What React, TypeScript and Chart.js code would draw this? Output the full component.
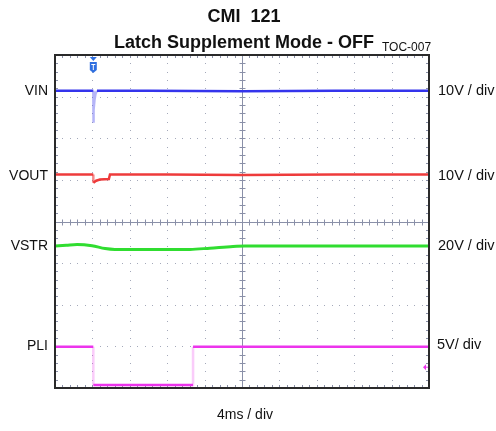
import React, { useEffect, useRef } from "react";
import { Chart, registerables } from "chart.js";

Chart.register(...registerables);

// Screen divisions: x 0..10 (4 ms/div), y 0..8
const X_DIVS = 10;
const Y_DIVS = 8;

const TITLE_1 = "CMI  121";
const TITLE_2 = "Latch Supplement Mode - OFF";
const TOC = "TOC-007";
const X_UNIT = "4ms / div";

const CH_NAMES = ["VIN", "VOUT", "VSTR", "PLI"];
const CH_SCALES = ["10V / div", "10V / div", "20V / div", "5V/ div"];
const CH_COLORS = ["#3434ec", "#ee3b3b", "#30dd30", "#ec34ec"];

// traces, x and y in divisions
const VIN_X = [0, 1.024, 1.025, 1.037, 1.056, 1.083, 1.123, 2.5, 5, 7.5, 10];
const VIN_Y = [7.14, 7.14, 6.37, 6.68, 6.92, 7.07, 7.14, 7.14, 7.13, 7.14, 7.14];

const VOUT_X = [0, 1.024, 1.025, 1.1, 1.2, 1.44, 1.47, 3, 5, 7.5, 10];
const VOUT_Y = [5.13, 5.13, 4.93, 4.98, 5.01, 5.02, 5.13, 5.13, 5.12, 5.13, 5.13];

const VSTR_X = [0, 0.3, 0.59, 0.99, 1.34, 1.6, 2.6, 3.61, 4.14, 4.76, 5.08, 7.5, 10];
const VSTR_Y = [3.41, 3.43, 3.45, 3.42, 3.35, 3.33, 3.33, 3.33, 3.36, 3.4, 3.41, 3.41, 3.41];

const PLI_X = [0, 1.024, 1.025, 3.69, 3.691, 10];
const PLI_Y = [0.99, 0.99, 0.07, 0.07, 0.99, 0.99];

// fast transitions drawn faint (as on the scope screen)
const VIN_FAST = [1.024, 1.1];
const VOUT_FAST = [1.024, 1.025];
const PLI_FAST_1 = [1.024, 1.025];
const PLI_FAST_2 = [3.69, 3.691];

const TRIGGER_X = 1.024;
const PLI_REF_Y = 0.5;

const CH_LABEL_Y = [7.14, 5.1, 3.4, 1.0];
const CH_SCALE_Y = [7.14, 5.1, 3.4, 1.04];

function pts(xs: number[], ys: number[]) {
  return xs.map((x, i) => ({ x, y: ys[i] }));
}

const FONT = "'Liberation Sans', Arial, sans-serif";

const scopePlugin = {
  id: "scope",
  beforeDatasetsDraw(chart: any) {
    const { ctx, scales } = chart;
    const { left, right, top, bottom } = chart.chartArea;
    const x = scales.x;
    const y = scales.y;
    ctx.save();
    // dotted grid
    ctx.fillStyle = "#a4a9ba";
    for (let i = 1; i < X_DIVS; i++) {
      if (i === X_DIVS / 2) continue;
      const px = Math.round(x.getPixelForValue(i));
      for (let j = 0; j <= Y_DIVS * 5; j++) {
        const py = Math.round(y.getPixelForValue(j / 5));
        ctx.fillRect(px, py, 1, 1);
      }
    }
    for (let j = 1; j < Y_DIVS; j++) {
      if (j === Y_DIVS / 2) continue;
      const py = Math.round(y.getPixelForValue(j));
      for (let i = 0; i <= X_DIVS * 5; i++) {
        const px = Math.round(x.getPixelForValue(i / 5));
        ctx.fillRect(px, py, 1, 1);
      }
    }
    // center lines
    ctx.strokeStyle = "#8a90a8";
    ctx.lineWidth = 1;
    const cx = Math.round(x.getPixelForValue(X_DIVS / 2)) + 0.5;
    const cy = Math.round(y.getPixelForValue(Y_DIVS / 2)) + 0.5;
    ctx.beginPath();
    ctx.moveTo(cx, top);
    ctx.lineTo(cx, bottom);
    ctx.moveTo(left, cy);
    ctx.lineTo(right, cy);
    for (let i = 0; i <= X_DIVS * 5; i++) {
      const px = Math.round(x.getPixelForValue(i / 5)) + 0.5;
      ctx.moveTo(px, cy - 3);
      ctx.lineTo(px, cy + 3);
      ctx.moveTo(px, top);
      ctx.lineTo(px, top + 3);
      ctx.moveTo(px, bottom);
      ctx.lineTo(px, bottom - 3);
    }
    for (let j = 0; j <= Y_DIVS * 5; j++) {
      const py = Math.round(y.getPixelForValue(j / 5)) + 0.5;
      ctx.moveTo(cx - 3, py);
      ctx.lineTo(cx + 3, py);
      ctx.moveTo(left, py);
      ctx.lineTo(left + 3, py);
      ctx.moveTo(right, py);
      ctx.lineTo(right - 3, py);
    }
    ctx.stroke();
    ctx.restore();
  },
  afterDatasetsDraw(chart: any) {
    const { ctx, scales } = chart;
    const { left, right, top, bottom } = chart.chartArea;
    const x = scales.x;
    const y = scales.y;
    ctx.save();
    // border
    ctx.strokeStyle = "#2a2a2a";
    ctx.lineWidth = 2;
    ctx.strokeRect(left, top, right - left, bottom - top);

    // trigger marker
    const tx = x.getPixelForValue(TRIGGER_X);
    ctx.fillStyle = "#2f6fe0";
    ctx.beginPath();
    ctx.moveTo(tx - 3.5, top + 2);
    ctx.lineTo(tx + 3.5, top + 2);
    ctx.lineTo(tx, top + 6);
    ctx.closePath();
    ctx.fill();
    ctx.beginPath();
    ctx.moveTo(tx - 3.5, top + 7);
    ctx.lineTo(tx + 3.5, top + 7);
    ctx.lineTo(tx + 3.5, top + 15);
    ctx.lineTo(tx, top + 18);
    ctx.lineTo(tx - 3.5, top + 15);
    ctx.closePath();
    ctx.fill();
    ctx.strokeStyle = "#ffffff";
    ctx.lineWidth = 1;
    ctx.beginPath();
    ctx.moveTo(tx - 2, top + 9.5);
    ctx.lineTo(tx + 2, top + 9.5);
    ctx.moveTo(tx, top + 9.5);
    ctx.lineTo(tx, top + 15);
    ctx.stroke();

    // PLI reference arrow
    const ay = y.getPixelForValue(PLI_REF_Y);
    ctx.fillStyle = CH_COLORS[3];
    ctx.beginPath();
    ctx.moveTo(right - 6, ay);
    ctx.lineTo(right - 3, ay - 3);
    ctx.lineTo(right - 3, ay + 3);
    ctx.closePath();
    ctx.fill();
    ctx.fillRect(right - 3, ay - 0.5, 2, 1);

    // texts
    ctx.fillStyle = "#111111";
    ctx.textBaseline = "alphabetic";
    ctx.textAlign = "center";
    const mid = 244;
    ctx.font = `bold 18px ${FONT}`;
    ctx.fillText(TITLE_1, mid, 22);
    ctx.fillText(TITLE_2, mid, 48);
    const w2 = ctx.measureText(TITLE_2).width;
    ctx.font = `12px ${FONT}`;
    ctx.textAlign = "left";
    ctx.fillText(TOC, mid + w2 / 2 + 8, 51);

    ctx.textBaseline = "middle";
    ctx.font = `14px ${FONT}`;
    CH_NAMES.forEach((n, i) => {
      ctx.textAlign = "right";
      ctx.fillText(n, 48, y.getPixelForValue(CH_LABEL_Y[i]));
    });
    ctx.font = `14.5px ${FONT}`;
    CH_SCALES.forEach((s, i) => {
      ctx.textAlign = "left";
      ctx.fillText(s, i === 3 ? 437 : 438, y.getPixelForValue(CH_SCALE_Y[i]));
    });
    ctx.font = `14px ${FONT}`;
    ctx.textAlign = "center";
    ctx.fillText(X_UNIT, x.getPixelForValue(X_DIVS / 2) + 3, 415);
    ctx.restore();
  },
};

export default function App() {
  const ref = useRef<HTMLCanvasElement | null>(null);
  useEffect(() => {
    document.body.style.margin = "0";
    const canvas = ref.current!;
    const inRanges = (x0: number, ranges: number[][]) =>
      ranges.some((r) => x0 >= r[0] - 1e-9 && x0 < r[1] - 1e-9);
    const mk = (
      label: string,
      xs: number[],
      ys: number[],
      color: string,
      faint: string,
      width: number,
      fast: number[][],
      tension = 0
    ) => ({
      label,
      data: pts(xs, ys),
      borderColor: color,
      borderWidth: width,
      pointRadius: 0,
      tension,
      cubicInterpolationMode: tension ? "monotone" : "default",
      segment: { borderColor: (c: any) => (inRanges(c.p0.parsed.x, fast) ? faint : color) },
    });
    const chart = new Chart(canvas, {
      type: "line",
      data: {
        datasets: [
          mk(CH_NAMES[0], VIN_X, VIN_Y, CH_COLORS[0], "rgba(90,90,240,0.45)", 2.5, [VIN_FAST]),
          mk(CH_NAMES[1], VOUT_X, VOUT_Y, CH_COLORS[1], "rgba(240,60,60,0.6)", 2.5, [VOUT_FAST]),
          mk(CH_NAMES[2], VSTR_X, VSTR_Y, CH_COLORS[2], CH_COLORS[2], 3, [], 0.4),
          mk(CH_NAMES[3], PLI_X, PLI_Y, CH_COLORS[3], "rgba(236,52,236,0.25)", 2.5, [PLI_FAST_1, PLI_FAST_2]),
        ] as any,
      },
      options: {
        responsive: false,
        animation: false,
        events: [],
        layout: { padding: { left: 55, right: 67, top: 55, bottom: 43 } },
        plugins: { legend: { display: false }, tooltip: { enabled: false }, title: { display: false } },
        scales: {
          x: { type: "linear", min: 0, max: X_DIVS, display: false },
          y: { type: "linear", min: 0, max: Y_DIVS, display: false },
        },
      },
      plugins: [scopePlugin],
    });
    return () => chart.destroy();
  }, []);
  return (
    <div style={{ position: "absolute", left: 0, top: 0, width: 496, height: 431, background: "#fff" }}>
      <canvas ref={ref} width={496} height={431} style={{ width: 496, height: 431, display: "block" }} />
    </div>
  );
}
